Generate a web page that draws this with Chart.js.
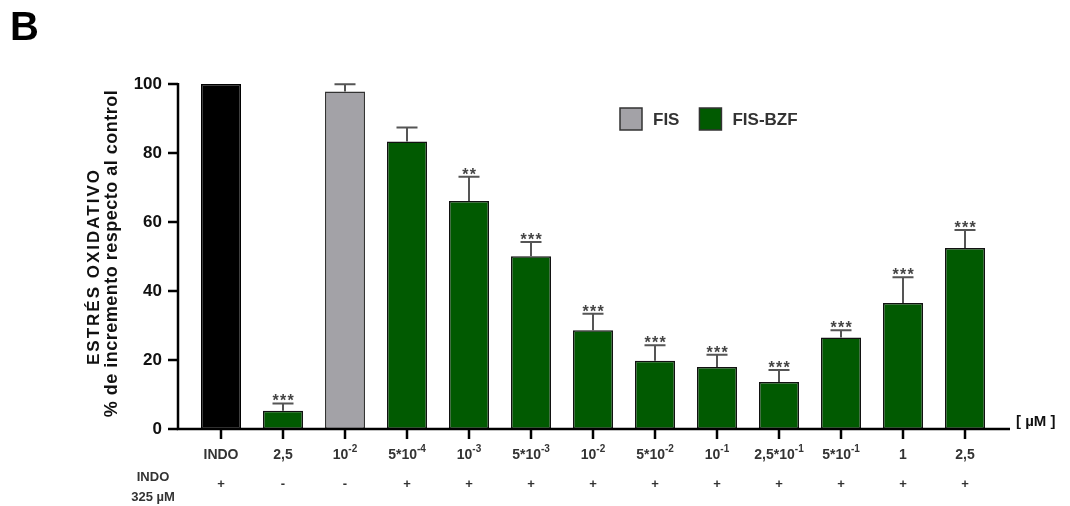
<!DOCTYPE html>
<html>
<head>
<meta charset="utf-8">
<script src="https://cdn.jsdelivr.net/npm/chart.js@4.4.1/dist/chart.umd.min.js"></script>
<style>
  html, body { margin: 0; padding: 0; background: #fff; }
  #wrap { width: 1070px; height: 506px; position: relative; }
</style>
</head>
<body>
<div id="wrap"><canvas id="c" width="1070" height="506"></canvas></div>
<script>
// ---- data ----
const categories = ['INDO', '2,5', '10^-2', '5*10^-4', '10^-3', '5*10^-3', '10^-2', '5*10^-2', '10^-1', '2,5*10^-1', '5*10^-1', '1', '2,5'];
const groups     = ['INDO', 'FIS-BZF', 'FIS', 'FIS-BZF', 'FIS-BZF', 'FIS-BZF', 'FIS-BZF', 'FIS-BZF', 'FIS-BZF', 'FIS-BZF', 'FIS-BZF', 'FIS-BZF', 'FIS-BZF'];
const values     = [100, 5.3, 97.8, 83.3, 66.1, 50.1, 28.6, 19.8, 18.0, 13.6, 26.5, 36.5, 52.5];
const errors     = [0, 2.1, 2.1, 4.1, 7.0, 4.1, 4.8, 4.5, 3.5, 3.5, 2.1, 7.5, 5.2];
const signif     = ['', '***', '', '', '**', '***', '***', '***', '***', '***', '***', '***', '***'];
const indoRow    = ['+', '-', '-', '+', '+', '+', '+', '+', '+', '+', '+', '+', '+'];
const yTicks     = [0, 20, 40, 60, 80, 100];
const legendItems = ['FIS', 'FIS-BZF'];
const yTitle     = ['ESTRÉS OXIDATIVO', '% de incremento respecto al control'];

const groupColors = { 'INDO': '#000000', 'FIS': '#a3a2a7', 'FIS-BZF': '#015a01' };
const groupBorders = { 'INDO': '#000000', 'FIS': '#333333', 'FIS-BZF': '#111111' };
const FONT = '"Liberation Sans", Arial, Helvetica, sans-serif';

const overlay = {
  id: 'overlay',
  afterDatasetsDraw(chart) {
    const ctx = chart.ctx;
    const x = chart.scales.x, y = chart.scales.y;
    const area = chart.chartArea;
    const axisX = area.left - 12;
    const y0 = y.getPixelForValue(0);
    ctx.save();

    // error bars + significance
    values.forEach((v, i) => {
      const cx = x.getPixelForValue(i);
      const top = y.getPixelForValue(v);
      const et = y.getPixelForValue(v + errors[i]);
      if (errors[i] > 0) {
        ctx.strokeStyle = '#555555';
        ctx.lineWidth = 2;
        ctx.beginPath();
        ctx.moveTo(cx, top); ctx.lineTo(cx, et);
        ctx.moveTo(cx - 10.5, et); ctx.lineTo(cx + 10.5, et);
        ctx.stroke();
      }
      if (signif[i]) {
        const n = signif[i].length;
        ctx.fillStyle = '#444444';
        ctx.font = 'bold 16px ' + FONT;
        ctx.textAlign = 'center';
        ctx.textBaseline = 'alphabetic';
        for (let k = 0; k < n; k++) {
          ctx.fillText('*', cx + (k - (n - 1) / 2) * 7.5, et + 3);
        }
      }
    });

    // axes lines
    ctx.strokeStyle = '#000';
    ctx.lineWidth = 2.5;
    ctx.beginPath();
    ctx.moveTo(axisX, y.getPixelForValue(100) - 1);
    ctx.lineTo(axisX, y0);
    ctx.lineTo(area.right + 14, y0);
    ctx.stroke();

    // y tick marks
    yTicks.forEach(t => {
      const py = y.getPixelForValue(t);
      ctx.beginPath();
      ctx.moveTo(axisX - 10, py); ctx.lineTo(axisX, py);
      ctx.stroke();
    });

    // y axis title (two lines, rotated)
    const midY = (area.top + area.bottom) / 2;
    ctx.fillStyle = '#111111';
    ctx.textAlign = 'center';
    ctx.textBaseline = 'middle';
    [[yTitle[0], 94, midY + 10, 17, '2px'], [yTitle[1], 112, midY - 3, 18, '0.5px']].forEach(([txt, tx, ty, fs, ls]) => {
      ctx.save();
      ctx.translate(tx, ty);
      ctx.rotate(-Math.PI / 2);
      ctx.font = 'bold ' + fs + 'px ' + FONT;
      ctx.letterSpacing = ls;
      ctx.fillText(txt, 0, 0);
      ctx.restore();
    });

    // x tick marks + labels
    categories.forEach((lab, i) => {
      const cx = x.getPixelForValue(i);
      ctx.strokeStyle = '#000';
      ctx.lineWidth = 2.5;
      ctx.beginPath();
      ctx.moveTo(cx, y0); ctx.lineTo(cx, y0 + 10);
      ctx.stroke();

      const parts = lab.split('^');
      const base = parts[0], exp = parts[1] || '';
      ctx.font = 'bold 14px ' + FONT;
      const wb = ctx.measureText(base).width;
      ctx.font = 'bold 10px ' + FONT;
      const we = exp ? ctx.measureText(exp).width : 0;
      const sx = cx - (wb + we) / 2;
      ctx.fillStyle = '#333333';
      ctx.textAlign = 'left';
      ctx.textBaseline = 'alphabetic';
      ctx.font = 'bold 14px ' + FONT;
      ctx.fillText(base, sx, y0 + 30);
      if (exp) {
        ctx.font = 'bold 10px ' + FONT;
        ctx.fillText(exp, sx + wb, y0 + 23);
      }
      // INDO row
      ctx.font = 'bold 13px ' + FONT;
      ctx.textAlign = 'center';
      ctx.textBaseline = 'middle';
      ctx.fillText(indoRow[i], cx, y0 + 55);
    });

    // row label
    ctx.fillStyle = '#333333';
    ctx.font = 'bold 13px ' + FONT;
    ctx.textAlign = 'center';
    ctx.textBaseline = 'middle';
    ctx.fillText('INDO', 153, y0 + 48);
    ctx.fillText('325 µM', 153, y0 + 68);

    // unit label
    ctx.fillStyle = '#111111';
    ctx.font = 'bold 15px ' + FONT;
    ctx.textAlign = 'left';
    ctx.textBaseline = 'middle';
    ctx.fillText('[ µM ]', area.right + 20, y0 - 7);

    // legend
    let lx = 620;
    const ly = 108;
    legendItems.forEach(name => {
      ctx.fillStyle = groupColors[name];
      ctx.fillRect(lx, ly, 22, 22);
      ctx.strokeStyle = '#333';
      ctx.lineWidth = 1.5;
      ctx.strokeRect(lx, ly, 22, 22);
      ctx.fillStyle = '#333333';
      ctx.font = 'bold 17px ' + FONT;
      ctx.textAlign = 'left';
      ctx.textBaseline = 'middle';
      ctx.fillText(name, lx + 33, ly + 12);
      lx += 33 + ctx.measureText(name).width + 20;
    });

    // panel letter
    ctx.fillStyle = '#000';
    ctx.font = 'bold 40px ' + FONT;
    ctx.textAlign = 'left';
    ctx.textBaseline = 'alphabetic';
    ctx.fillText('B', 10, 40);

    ctx.restore();
  }
};

new Chart(document.getElementById('c'), {
  type: 'bar',
  data: {
    labels: categories,
    datasets: [{
      data: values,
      backgroundColor: groups.map(g => groupColors[g]),
      borderColor: groups.map(g => groupBorders[g]),
      borderWidth: 1.5,
      borderSkipped: false,
      barPercentage: 0.645,
      categoryPercentage: 1.0
    }]
  },
  options: {
    responsive: false,
    animation: false,
    devicePixelRatio: 1,
    layout: { padding: { top: 84, bottom: 77, right: 74, left: 0 } },
    plugins: { legend: { display: false }, tooltip: { enabled: false } },
    scales: {
      x: { display: false },
      y: {
        min: 0, max: 100,
        afterFit(scale) { scale.width = 190; },
        afterBuildTicks(scale) { scale.ticks = yTicks.map(v => ({ value: v })); },
        grid: { display: false, drawTicks: false },
        border: { display: false },
        ticks: {
          padding: 28,
          color: '#111',
          font: { family: FONT, size: 17, weight: 'bold' }
        },
        title: { display: false }
      }
    }
  },
  plugins: [overlay]
});
</script>
</body>
</html>
